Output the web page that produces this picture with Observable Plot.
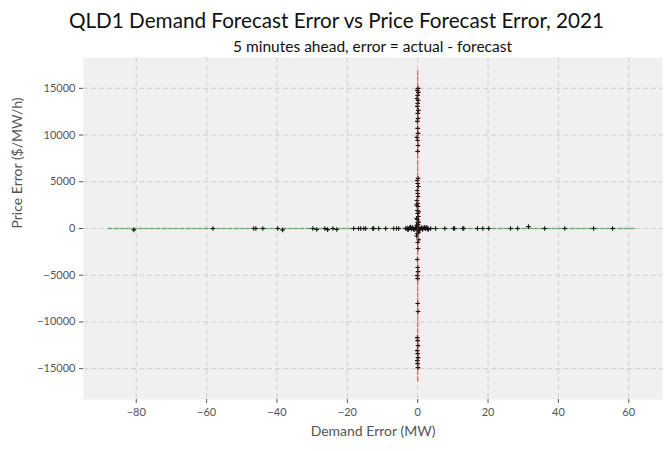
<!DOCTYPE html>
<html>
<head>
<meta charset="utf-8">
<script src="https://cdn.jsdelivr.net/npm/d3@7"></script>
<script src="https://cdn.jsdelivr.net/npm/@observablehq/plot@0.6"></script>
<style>
  html, body { margin: 0; padding: 0; background: #fff; }
  #wrap { width: 671px; height: 451px; font-family: Lato, "Noto Sans", sans-serif; }
  #title { height: 36px; line-height: 40px; text-align: center; font-size: 20.7px; color: #111; white-space: nowrap; padding-left: 2px; }
  #subtitle { height: 20px; line-height: 20px; margin-left: 83px; width: 579px; text-align: center; font-size: 15.5px; color: #111; white-space: nowrap; }
</style>
</head>
<body>
<div id="wrap">
  <div id="title">QLD1 Demand Forecast Error vs Price Forecast Error, 2021</div>
  <div id="subtitle">5 minutes ahead, error = actual - forecast</div>
  <div id="chart"></div>
</div>
<script>
// Demand forecast error (MW) for each 5-minute interval
const demandErrors = [
  // spread along price ≈ 0
  -80.7, -58.2, -46.6, -46.0, -44.0, -39.8, -38.4, -29.8, -28.7, -26.4, -25.6, -24.1, -23.0,
  -18.2, -16.8, -16.2, -15.3, -14.8, -12.8, -12.5, -11.1, -9.1, -6.8, -6.0, -5.4, -3.4,
  -3.0, -2.6, -2.2, -1.8, -1.4, -1.0, -0.6, 0.6, 1.0, 1.4, 1.8, 2.2, 2.6, 3.0,
  -2.8, -2.0, -1.2, -0.4, 0.4, 1.2, 2.0, 2.8,
  3.7, 5.1, 7.7, 10.2, 10.5, 12.8, 13.1, 17.0, 18.5, 20.2, 26.4, 28.4, 31.5, 36.1, 41.8, 50.0, 55.4,
  // spread along demand ≈ 0
  0.1, -0.1, 0.2, 0.0, -0.2, 0.1, 0.0, -0.1, 0.2, 0.0, 0.1, -0.1, 0.0, 0.1, -0.2, 0.0, 0.1, 0.0,
  0.1, -0.1, 0.0, 0.2, -0.1, 0.0, 0.1, -0.2, 0.0, 0.1, -0.1, 0.0, 0.2, -0.1, 0.0, 0.1, -0.1, 0.0, 0.1,
  -0.3, 0.3, -0.3, 0.3, -0.3, 0.3, -0.3, 0.3,
  -0.1, 0.0, 0.1, -0.1, 0.0, 0.1, -0.1, 0.0, 0.0, 0.1, -0.1, 0.0, 0.1, -0.1, 0.0, 0.1, -0.1, 0.0, 0.1
];
// Price forecast error ($/MW/h), paired with demandErrors
const priceErrors = [
  -150, 0, 0, 0, 0, 0, -150, 0, -100, 0, -120, 0, -100,
  0, 0, 0, 0, 0, 0, 0, 0, 0, 0, 0, 0, 0,
  60, -80, 120, -40, 90, -120, 30, -60, 110, -100, 70, -30, 130, -90,
  -140, 150, -60, 80, -150, 40, 140, -40,
  0, 0, 0, 0, 0, 0, 0, 0, 0, 0, 0, 0, 200, 0, 0, 0, 0,
  15000, 14780, 14570, 14250, 13920, 13710, 13390, 13070, 12640, 12320, 11780, 11460, 10710, 10180, 9750, 9420, 8890, 8250,
  5360, 5140, 4820, 4500, 4070, 3750, 3430, 3000, 2680, 2360, 1930, 1610, 1290, 960, 640, 430, 210, 100, -250,
  2500, 1800, 1100, 700, 350, -400, -800, -1200,
  -540, -1500, -2140, -3320, -4180, -4610, -5040, -5360, -8030, -8890, -11680, -12000, -12530, -13070, -13390, -13820, -14140, -14460, -14890, -15000
];
// Reference lines
const zeroPriceLineX = [-88, 62];
const zeroDemandLineY = [-16300, 16900];
const xTicks = [-80, -60, -40, -20, 0, 20, 40, 60];
const yTicks = [-15000, -10000, -5000, 0, 5000, 10000, 15000];

const points = demandErrors.map((d, i) => ({demand: d, price: priceErrors[i]}));
const greenLine = zeroPriceLineX.map(x => ({x, y: 0}));
const redLine = zeroDemandLineY.map(y => ({x: 0, y}));

const chart = Plot.plot({
  width: 671,
  height: 395,
  marginTop: 1,
  marginBottom: 52,
  marginLeft: 83,
  marginRight: 9,
  style: {fontFamily: "Lato, 'Noto Sans', sans-serif", fontSize: "11px", color: "#555", background: "transparent"},
  x: {domain: [-95, 69.6], ticks: xTicks, label: null},
  y: {domain: [-18300, 18300], ticks: yTicks, label: null},
  marks: [
    Plot.frame({fill: "#f0f0f0", stroke: null}),
    Plot.gridX(xTicks, {stroke: "#cfcfcf", strokeOpacity: 1, strokeDasharray: "5,3"}),
    Plot.gridY(yTicks, {stroke: "#cfcfcf", strokeOpacity: 1, strokeDasharray: "5,3"}),
    Plot.axisX(xTicks, {tickSize: 4, tickPadding: 5, stroke: "#555", fill: "#555", fontSize: 11, label: null}),
    Plot.axisY(yTicks, {tickSize: 4, tickPadding: 4, stroke: "#555", fill: "#555", fontSize: 11, tickFormat: d3.format("d"), label: null}),
    Plot.line(greenLine, {x: "x", y: "y", stroke: "green", strokeOpacity: 0.5, strokeDasharray: "4,2"}),
    Plot.dot(points, {x: "demand", y: "price", symbol: "plus", r: 1.6, stroke: "#111", strokeWidth: 1.1, fill: null}),
    Plot.line(redLine, {x: "x", y: "y", stroke: "red", strokeOpacity: 0.5, strokeDasharray: "4,2"}),
    Plot.text(["Demand Error (MW)"], {frameAnchor: "bottom", dy: 36, fontSize: 14, fill: "#555"}),
    Plot.text(["Price Error ($/MW/h)"], {frameAnchor: "left", dx: -66, rotate: -90, fontSize: 14, fill: "#555"})
  ]
});
document.getElementById("chart").appendChild(chart);
</script>
</body>
</html>
